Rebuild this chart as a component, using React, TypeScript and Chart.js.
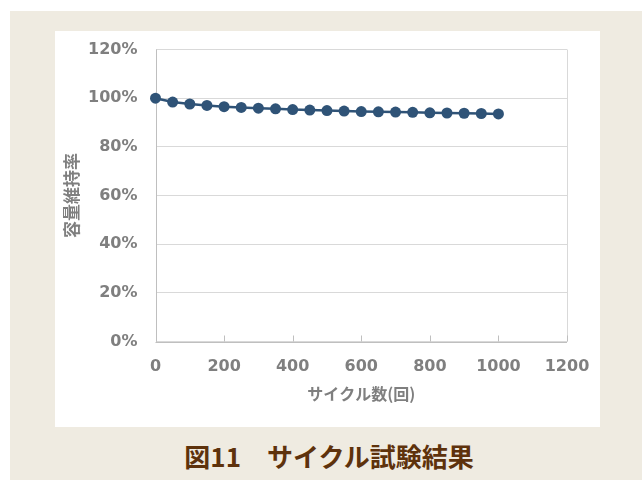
import React, { useEffect, useRef } from "react";
import { Chart, registerables } from "chart.js";

Chart.register(...registerables);

// Cycle count (x) and capacity retention in % (y)
const cycles = [0, 50, 100, 150, 200, 250, 300, 350, 400, 450, 500, 550, 600, 650, 700, 750, 800, 850, 900, 950, 1000];
const retention = [100, 98.4, 97.6, 97.0, 96.5, 96.2, 95.9, 95.6, 95.3, 95.1, 94.9, 94.7, 94.5, 94.4, 94.3, 94.2, 94.0, 93.9, 93.8, 93.7, 93.5];

const xTicks = [0, 200, 400, 600, 800, 1000, 1200];
const yTicks = [0, 20, 40, 60, 80, 100, 120];

const xTitle = "サイクル数(回)";
const yTitle = "容量維持率";
const caption = "図11\u3000サイクル試験結果";

const SERIES = "#2f5377";
const GRID = "#d9d9d9";
const AXIS = "#bfbfbf";
const TEXT = "#7f7f7f";
const FONT = "'DejaVu Sans', 'Noto Sans CJK JP', sans-serif";

// Frame around the plot area plus short inward tick marks on the x axis
const framePlugin = {
  id: "frame",
  beforeDatasetsDraw(chart: any) {
    const { ctx, chartArea: a, scales } = chart;
    ctx.save();
    ctx.lineWidth = 1;
    ctx.strokeStyle = GRID;
    ctx.beginPath();
    ctx.moveTo(Math.round(a.right) + 0.5, a.top);
    ctx.lineTo(Math.round(a.right) + 0.5, a.bottom);
    ctx.stroke();
    ctx.strokeStyle = AXIS;
    ctx.beginPath();
    ctx.moveTo(Math.round(a.left) + 0.5, a.top);
    ctx.lineTo(Math.round(a.left) + 0.5, a.bottom);
    ctx.moveTo(a.left, Math.round(a.bottom) + 0.5);
    ctx.lineTo(a.right, Math.round(a.bottom) + 0.5);
    for (const v of xTicks) {
      const px = Math.round(scales.x.getPixelForValue(v)) + 0.5;
      ctx.moveTo(px, a.bottom);
      ctx.lineTo(px, a.bottom - 6);
    }
    ctx.stroke();
    ctx.restore();
  },
};

function CycleChart() {
  const ref = useRef<HTMLCanvasElement>(null);
  useEffect(() => {
    if (!ref.current) return;
    const chart = new Chart(ref.current, {
      type: "line",
      data: {
        datasets: [
          {
            data: cycles.map((c, i) => ({ x: c, y: retention[i] })),
            borderColor: SERIES,
            backgroundColor: SERIES,
            borderWidth: 2.5,
            pointRadius: 5.5,
            pointHoverRadius: 5.5,
            pointBorderWidth: 0,
            tension: 0,
            clip: false,
          },
        ],
      },
      options: {
        animation: false,
        responsive: false,
        events: [],
        layout: { padding: { top: 18.5, right: 33, left: 0, bottom: 0 } },
        plugins: { legend: { display: false }, tooltip: { enabled: false } },
        scales: {
          x: {
            type: "linear",
            min: 0,
            max: 1200,
            afterBuildTicks: (s: any) => {
              s.ticks = xTicks.map((v) => ({ value: v }));
            },
            afterFit: (s: any) => {
              s.height = 85.5;
              s.paddingLeft = 0;
              s.paddingRight = 0;
            },
            grid: { display: false, drawTicks: false },
            border: { display: false },
            ticks: {
              padding: 16,
              color: TEXT,
              font: { family: FONT, size: 16, weight: "bold" },
              maxRotation: 0,
              callback: (v: any) => String(v),
            },
            title: {
              display: true,
              text: xTitle,
              color: TEXT,
              padding: { top: 0, bottom: 23 },
              font: { family: "'Noto Sans CJK JP', sans-serif", size: 16, weight: "bold" },
            },
          },
          y: {
            min: 0,
            max: 120,
            afterBuildTicks: (s: any) => {
              s.ticks = yTicks.map((v) => ({ value: v }));
            },
            afterFit: (s: any) => {
              s.width = 100.5;
              s.paddingTop = 0;
              s.paddingBottom = 0;
            },
            grid: { color: GRID, drawTicks: false },
            border: { display: false },
            ticks: {
              padding: 18,
              color: TEXT,
              font: { family: FONT, size: 16, weight: "bold" },
              callback: (v: any) => `${v}%`,
            },
            title: {
              display: true,
              text: yTitle,
              color: TEXT,
              padding: { top: 6, bottom: 0 },
              font: { family: "'Noto Sans CJK JP', sans-serif", size: 17, weight: "bold" },
            },
          },
        },
      },
      plugins: [framePlugin],
    });
    return () => chart.destroy();
  }, []);
  return <canvas ref={ref} width={545} height={396} style={{ display: "block" }} />;
}

export default function App() {
  return (
    <div
      style={{
        position: "absolute",
        left: 10,
        top: 11,
        width: 632,
        height: 469,
        background: "#efebe1",
      }}
    >
      <div style={{ position: "absolute", left: 45, top: 20, width: 545, height: 396, background: "#ffffff" }}>
        <CycleChart />
      </div>
      <div
        style={{
          position: "absolute",
          left: 0,
          width: 638,
          top: 427,
          textAlign: "center",
          fontFamily: "'Noto Sans CJK JP', sans-serif",
          fontWeight: "bold",
          fontSize: 26,
          lineHeight: "36px",
          color: "#5e320c",
        }}
      >
        {caption}
      </div>
    </div>
  );
}
